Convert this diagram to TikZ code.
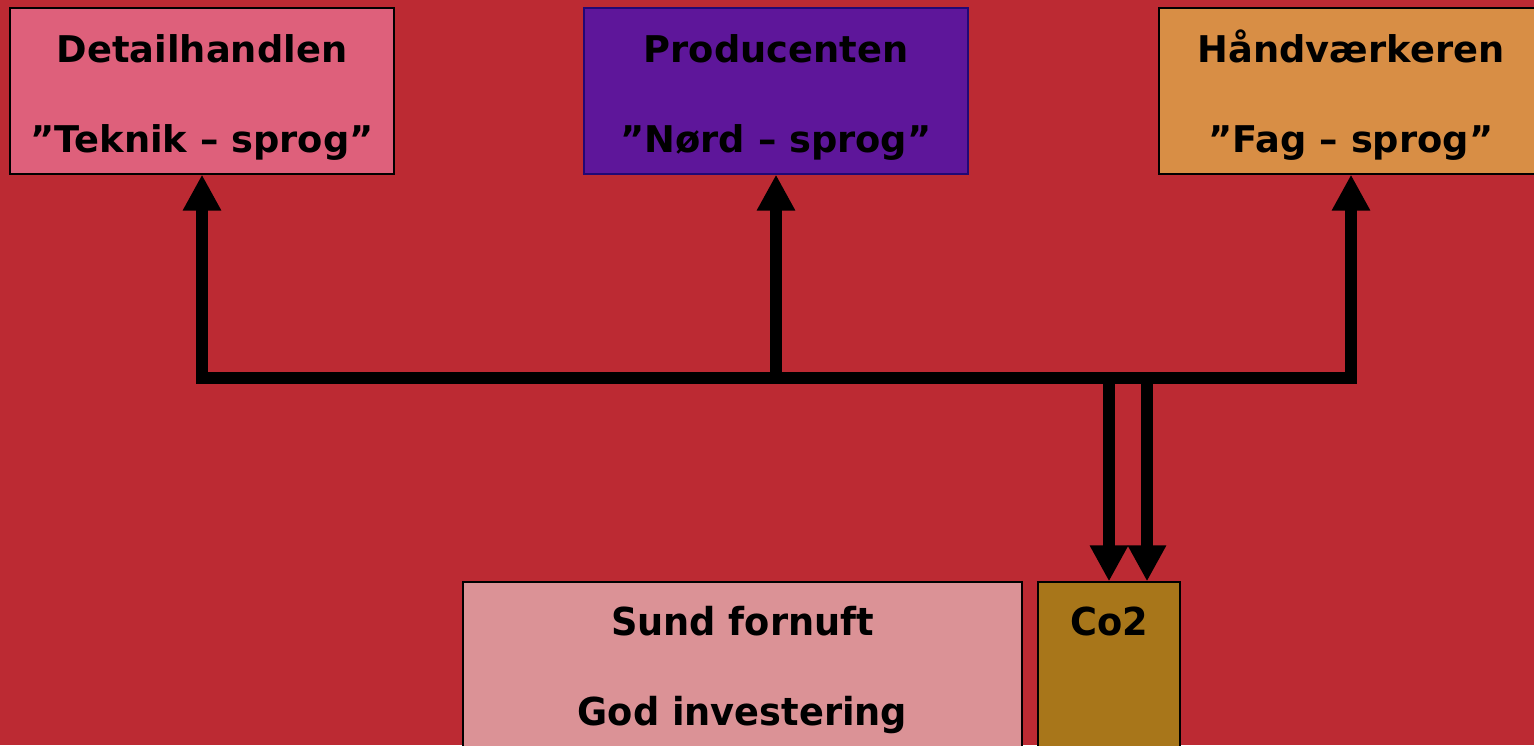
\documentclass[tikz,border=0pt]{standalone}
\usepackage{fontspec}
\setmainfont{DejaVu Sans}
\newfontfamily\condfont[FakeStretch=1.06]{DejaVu Sans Condensed}
\usetikzlibrary{arrows.meta}

\definecolor{bgred}{HTML}{BC2A33}
\definecolor{detcol}{HTML}{DE607B}
\definecolor{prodcol}{HTML}{5E169A}
\definecolor{handcol}{HTML}{D88E45}
\definecolor{sundcol}{HTML}{DB9296}
\definecolor{cocol}{HTML}{A8761A}

\tikzset{
  topbox/.style={draw=black, line width=1.2pt, minimum width=384pt, minimum height=166pt,
    align=center, inner sep=0pt, text height=132pt, text depth=10pt,
    font=\bfseries\fontsize{36.8}{90}\selectfont},
  lowbox/.style={draw=black, line width=1.2pt, minimum height=170pt,
    align=center, inner sep=0pt, text height=126pt, text depth=10pt,
    font=\condfont\bfseries\fontsize{38.5}{90}\selectfont},
  link/.style={line width=11.5pt, line join=miter},
  tip/.style={-{Triangle[length=36pt,width=36pt]}}
}

\begin{document}
\begin{tikzpicture}[x=1pt, y=-1pt] % one unit is one pixel

  % Background
  \fill [bgred] (0,0) rectangle (1534,745);
  \useasboundingbox (0,0) rectangle (1534,745);

  % The three language boxes
  \node [topbox, fill=detcol] (det) at (202,91) {Detailhandlen\\”Teknik – sprog”};
  \node [topbox, fill=prodcol, draw=prodcol!60!blue!60!black] (prod) at (776,91) {Producenten\\”Nørd – sprog”};
  \node [topbox, fill=handcol] (hand) at (1351,91) {Håndværkeren\\”Fag – sprog”};

  % Bottom boxes
  \node [lowbox, fill=sundcol, minimum width=559pt] (sund) at (742.5,667) {Sund fornuft\\God investering};
  \node [lowbox, fill=cocol, minimum width=142pt, text height=30pt, text depth=94pt] (co2) at (1109,667) {Co2};

  % Bus line
  \coordinate (bus) at (0,378);

  \draw [link, {Triangle[length=36pt,width=36pt]}-{Triangle[length=36pt,width=36pt]}]
    (det.south) -- (det.south |- bus) -- (hand.south |- bus) -- (hand.south);
  \draw [link, tip] (prod.south |- bus) -- (prod.south);

  % Two arrows down to Co2
  \draw [link, tip] (co2.north |- bus) -- (co2.north);
  \draw [link, tip] ([xshift=38pt]co2.north |- bus) -- ([xshift=38pt]co2.north);

\end{tikzpicture}
\end{document}
